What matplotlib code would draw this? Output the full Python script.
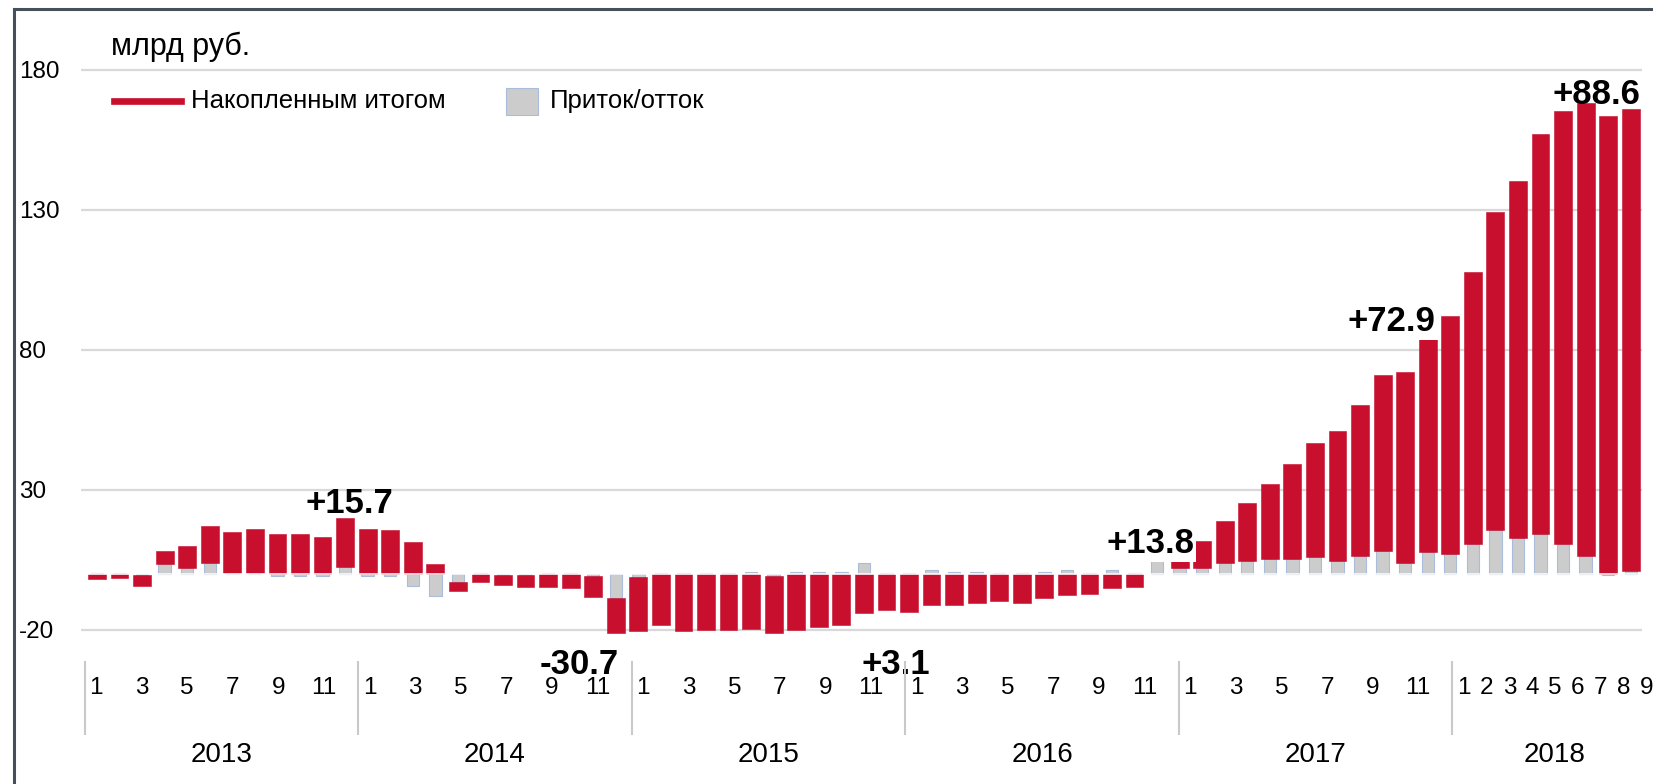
import numpy as np
import matplotlib.pyplot as plt
from matplotlib.lines import Line2D
from matplotlib.patches import Rectangle

plt.rcParams['font.family'] = ['Liberation Sans', 'DejaVu Sans']
plt.rcParams['axes.unicode_minus'] = False

# months 2013-01 .. 2018-09
years = [2013, 2014, 2015, 2016, 2017, 2018]
months_in_year = [12, 12, 12, 12, 12, 9]

# monthly inflow/outflow, bn rub (grey columns)
pritok = [0.3, 0.3, -0.5, 3.6, 2.0, 4.0, 0.4, 0.4, -0.6, -0.6, -0.6, 2.4,
          -0.6, -0.6, -4.2, -7.9, -2.7, 0.3, -0.5, -0.5, 0.3, 0.3, -0.8, -8.7,
          -1.0, 0.5, 0.3, 0.4, 0.3, 0.6, -0.6, 0.6, 0.6, 0.6, 4.0, 0.5,
          0.3, 1.5, 0.6, 0.6, 0.5, 0.3, 0.8, 1.5, 0.3, 1.5, 0.4, 5.0,
          2.1, 2.0, 4.0, 4.8, 5.2, 5.5, 6.2, 4.8, 6.4, 8.1, 4.0, 7.7,
          7.1, 10.7, 15.7, 12.7, 14.3, 10.7, 6.4, -0.3, 1.0]

# cumulative series (red columns, stacked with the grey ones)
nakop = [-1.9, -1.6, -3.8, 4.6, 8.0, 13.0, 14.6, 15.8, 14.3, 14.2, 13.3, 17.5,
         16.0, 15.6, 11.4, 3.6, -3.4, -2.7, -3.4, -4.0, -4.8, -5.1, -7.5, -12.5,
         -19.2, -18.2, -20.2, -20.0, -20.0, -19.8, -20.4, -20.0, -19.0, -18.2, -13.8, -13.0,
         -13.5, -11.2, -11.0, -10.5, -9.8, -10.2, -8.7, -7.5, -7.3, -5.1, -4.8, 0.9,
         3.7, 9.9, 15.0, 20.4, 26.9, 33.7, 40.7, 46.3, 54.0, 63.0, 68.0, 76.8,
         85.0, 97.0, 113.7, 127.5, 142.7, 154.8, 161.9, 163.6, 165.2]

y_ticks = [-20, 30, 80, 130, 180]

# yearly totals written on the chart
ann_text = ['+15.7', '-30.7', '+3.1', '+13.8', '+72.9', '+88.6']
ann_x = [11.2, 21.4, 35.4, 46.7, 57.4, 66.5]
ann_y = [26.4, -31.0, -31.0, 12.1, 91.4, 172.5]
ann_box = [False, False, False, True, True, False]

RED = '#c8102e'
GREY = '#cccccc'

W, H = 1653, 784
fig = plt.figure(figsize=(W / 100, H / 100), dpi=100)


def fx(px):
    return px / W


def fy(py):
    return 1 - py / H


# main axes with the columns
ax = fig.add_axes([fx(81), fy(635.6), fx(1642) - fx(81), fy(64.4) - fy(635.6)])
x = np.arange(len(pritok))
g = np.array(pritok)
r = np.array(nakop)
base = np.where(np.sign(g) == np.sign(r), g, 0)

ax.bar(x, g, width=0.55, color=GREY, edgecolor='#a9bcd9', linewidth=0.8, zorder=2)
ax.bar(x, r, bottom=base, width=0.79, color=RED, edgecolor=RED, linewidth=0.4, zorder=3)
ax.axhline(0, color='white', lw=1.1, zorder=4)

ax.set_xlim(-0.71, 68.5)
ax.set_ylim(-22, 182)
ax.set_xticks([])
ax.set_yticks(y_ticks)
ax.grid(axis='y', color='#d9d9d9', lw=1.6)
ax.set_axisbelow(True)
for s in ax.spines.values():
    s.set_visible(False)
ax.tick_params(axis='y', length=0, pad=44.6, labelsize=17.5)
for t in ax.get_yticklabels():
    t.set_horizontalalignment('left')

for s, xx, yy, b in zip(ann_text, ann_x, ann_y, ann_box):
    kw = dict(bbox=dict(facecolor='white', edgecolor='none', pad=1.5)) if b else {}
    ax.text(xx, yy, s, ha='center', va='center_baseline', fontsize=25,
            fontweight='bold', clip_on=False, zorder=6, **kw)

# category labels (months / years) on their own axis
ax2 = fig.add_axes([fx(81), fy(784), 1 - fx(81), fy(650) - fy(784)])
ax2.set_xlim(-0.658, 68.3)
ax2.set_ylim(784, 650)
ax2.axis('off')

idx = 0
bounds = []
for year, n in zip(years, months_in_year):
    bounds.append(idx - 0.5)
    for m in range(1, n + 1):
        if year == 2018 or m % 2 == 1:
            ax2.text(idx + m - 1, 685, str(m), ha='center', va='center_baseline',
                     fontsize=17.5, clip_on=False)
    ax2.text(idx + (n - 1) / 2, 752, str(year), ha='center', va='center_baseline',
             fontsize=20)
    idx += n
ax2.vlines(bounds, 661, 735, color='#c9c9c9', lw=1.5)

# unit and legend
fig.text(fx(111), fy(47), 'млрд руб.', fontsize=22, va='center')
fig.add_artist(Line2D([fx(114), fx(181)], [fy(101), fy(101)], color=RED, lw=4.8,
                      transform=fig.transFigure))
fig.text(fx(191), fy(101), 'Накопленным итогом', fontsize=18.5, va='center')
fig.add_artist(Rectangle((fx(506), fy(115)), fx(32), 27 / H, facecolor=GREY,
                         edgecolor='#a9bcd9', lw=0.8, transform=fig.transFigure))
fig.text(fx(550), fy(101), 'Приток/отток', fontsize=18.5, va='center')

# frame (only left and top edges are visible)
frame = dict(color='#46505a', lw=2.2, transform=fig.transFigure)
fig.add_artist(Line2D([fx(14), fx(14)], [fy(9), 0], **frame))
fig.add_artist(Line2D([fx(14), 1], [fy(9), fy(9)], **frame))

fig.savefig('out.png', dpi=100)
